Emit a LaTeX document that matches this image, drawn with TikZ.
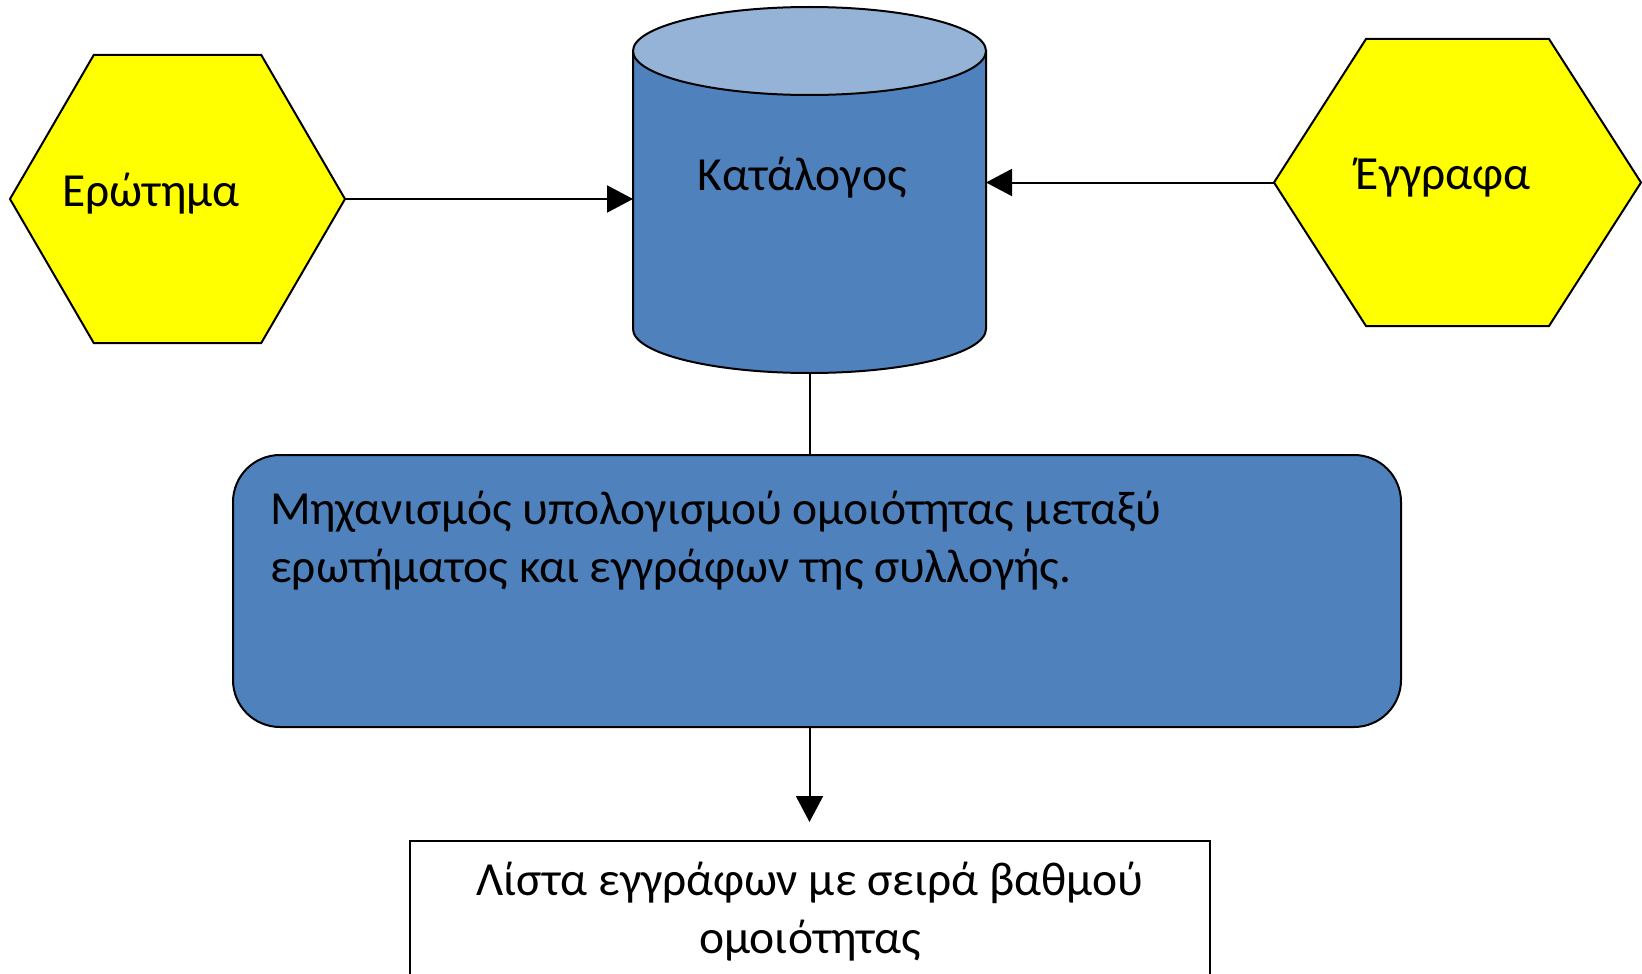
\documentclass[tikz,border=0pt]{standalone}
\usepackage{fontspec}
\setmainfont{Carlito}
\usetikzlibrary{arrows.meta,calc}
\definecolor{offblue}{HTML}{4F81BD}
\definecolor{offtop}{HTML}{95B3D7}
\definecolor{hexyellow}{HTML}{FFFF00}
\begin{document}
\begin{tikzpicture}[x=1pt,y=-1pt,
  frame/.style={draw=none,inner sep=0pt,outer sep=0pt},
  hexshape/.style={fill=hexyellow,draw=black,line width=2pt,line join=miter},
  cylbody/.style={fill=offblue,draw=black,line width=2pt},
  cyltop/.style={fill=offtop,draw=black,line width=2pt},
  mechbox/.style={rectangle,rounded corners=47pt,fill=offblue,draw=black,line width=2pt,minimum width=1168pt,minimum height=272pt,inner sep=0pt,outer sep=0pt},
  listbox/.style={rectangle,draw=black,fill=white,line width=2pt,minimum width=800pt,minimum height=200pt,inner sep=0pt,outer sep=0pt},
  txt/.style={inner sep=0pt,font=\fontsize{47.5pt}{57.5pt}\selectfont},
  conn/.style={draw=black,line width=2pt},
  arr/.style={conn,-{Triangle[length=26pt,width=27pt]}}
]
\useasboundingbox (0,0) rectangle (1642,974);
\clip (0,0) rectangle (1642,974);

% frames
\node[frame,minimum width=335pt,minimum height=288pt] (ero) at (177.5,199) {};
\node[frame,minimum width=367pt,minimum height=287pt] (egg) at (1457.5,182.5) {};
\node[frame,minimum width=353pt,minimum height=366pt] (cat) at (809.5,190) {};

% hexagons
\draw[hexshape] (ero.west) -- ([xshift=83.75pt]ero.north west) -- ([xshift=-83.75pt]ero.north east)
  -- (ero.east) -- ([xshift=-83.75pt]ero.south east) -- ([xshift=83.75pt]ero.south west) -- cycle;
\draw[hexshape] (egg.west) -- ([xshift=92pt]egg.north west) -- ([xshift=-92pt]egg.north east)
  -- (egg.east) -- ([xshift=-92pt]egg.south east) -- ([xshift=92pt]egg.south west) -- cycle;

% cylinder
\draw[cylbody] (633,51) -- (633,329) arc[start angle=180,end angle=360,x radius=176.5pt,y radius=44pt] -- (986,51) -- cycle;
\draw[cyltop] (809.5,51) ellipse [x radius=176.5pt,y radius=44pt];

% boxes
\node[mechbox] (mech) at (817,591) {};
\node[listbox,anchor=north] (list) at (810,841) {};

% texts
\node[txt,anchor=base] (eroT) at (151,206) {Ερώτημα};
\node[txt,anchor=base] (eggT) at (1443,189) {Έγγραφα};
\node[txt,anchor=base] (catT) at (802,190) {Κατάλογος};
\node[txt,anchor=base west,align=left] (mechT) at (270,582) {Μηχανισμός υπολογισμού ομοιότητας μεταξύ\\ερωτήματος και εγγράφων της συλλογής.};
\node[txt,anchor=base,align=center] (listT) at (810,953) {Λίστα εγγράφων με σειρά βαθμού\\ομοιότητας};

% connectors
\draw[arr] (ero.east) -- (ero.east -| cat.west);
\draw[arr] (egg.west) -- (egg.west -| cat.east);
\draw[conn] (cat.south) -- (cat.south |- mech.north);
\draw[arr] (mech.south -| cat.south) -- ([yshift=19pt]list.north -| cat.south);
\end{tikzpicture}
\end{document}
